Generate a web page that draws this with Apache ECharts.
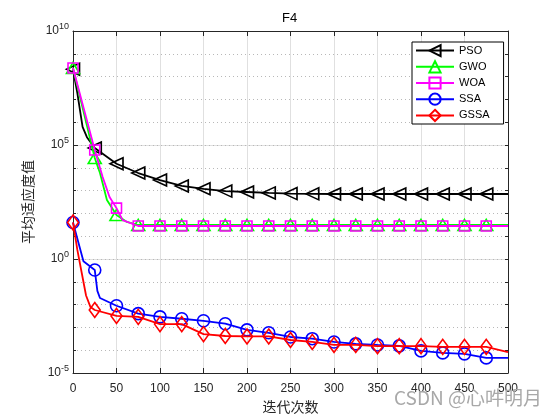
<!DOCTYPE html>
<html>
<head>
<meta charset="utf-8">
<script src="https://cdn.jsdelivr.net/npm/echarts@6/dist/echarts.min.js"></script>
<style>html,body{margin:0;padding:0;background:#fff}#c{width:560px;height:420px}</style>
</head>
<body>
<div id="c"></div>
<script>
// ---- data ----
const xTicks = [0, 50, 100, 150, 200, 250, 300, 350, 400, 450, 500];
const psoX = [0, 5, 11, 16, 25, 50, 75, 100, 125, 150, 175, 200, 225, 250, 275, 300, 325, 350, 375, 400, 425, 450, 475, 500];
const psoY = [2.1e8, 1.9e7, 6.2e5, 2.2e5, 7.4e4, 1.5e4, 5.9e3, 2.9e3, 1.6e3, 1.2e3, 950, 870, 790, 740, 720, 710, 710, 710, 710, 710, 710, 710, 710, 710];
const gwoX = [0, 25, 31, 39, 50, 62, 75, 100, 125, 150, 175, 200, 225, 250, 275, 300, 325, 350, 375, 400, 425, 450, 475, 500];
const gwoY = [2.4e8, 2.7e4, 5.9e3, 390, 85, 42, 31, 31, 31, 31, 31, 31, 31, 31, 31, 31, 31, 31, 31, 31, 31, 31, 31, 31];
const woaX = [0, 25, 34, 42, 50, 57, 75, 100, 125, 150, 175, 200, 225, 250, 275, 300, 325, 350, 375, 400, 425, 450, 475, 500];
const woaY = [2.4e8, 6.0e4, 4.0e3, 520, 170, 51, 28, 28, 28, 28, 28, 28, 28, 28, 28, 28, 28, 28, 28, 28, 28, 28, 28, 28];
const ssaX = [0, 12, 25, 28, 31, 50, 75, 100, 125, 150, 175, 200, 225, 250, 275, 300, 325, 350, 375, 400, 425, 450, 475, 500];
const ssaY = [40, 0.79, 0.33, 0.04, 0.0195, 8.9e-3, 4.0e-3, 2.9e-3, 2.4e-3, 1.95e-3, 1.45e-3, 7.8e-4, 5.8e-4, 3.8e-4, 3.2e-4, 2.3e-4, 1.9e-4, 1.7e-4, 1.55e-4, 9.3e-5, 7.6e-5, 6.9e-5, 4.6e-5, 4.6e-5];
const gssaX = [0, 5, 10, 15, 20, 25, 50, 75, 100, 125, 150, 175, 200, 225, 250, 275, 300, 325, 350, 375, 400, 425, 450, 475, 500];
const gssaY = [40, 2.5, 0.25, 0.025, 7.9e-3, 5.8e-3, 3.2e-3, 2.9e-3, 1.4e-3, 1.4e-3, 5.1e-4, 4.2e-4, 4.0e-4, 4.0e-4, 2.8e-4, 2.3e-4, 1.7e-4, 1.7e-4, 1.5e-4, 1.5e-4, 1.5e-4, 1.4e-4, 1.4e-4, 1.4e-4, 8.3e-5];
const names = ['PSO', 'GWO', 'WOA', 'SSA', 'GSSA'];
const colors = ['#000000', '#00ff00', '#ff00ff', '#0000ff', '#ff0000'];
const symbols = ['triangle', 'triangle', 'rect', 'circle', 'diamond'];
const symbolRot = [90, 0, 0, 0, 0];
const symbolSizes = [[12, 13], [13, 11], [10, 10], [12, 12], [11, 15]];

const chart = echarts.init(document.getElementById('c'), null, {renderer: 'canvas'});
const xs = [psoX, gwoX, woaX, ssaX, gssaX];
const ys = [psoY, gwoY, woaY, ssaY, gssaY];

function pts(x, y) {
  return x.map((v, i) => {
    const item = {value: [v, y[i]]};
    if (v % 25 !== 0 || v >= 500) item.symbol = 'none';
    return item;
  });
}

const font = '"Liberation Sans", Arial, Helvetica, sans-serif';
const gridCol = '#e0e0e0';

const series = names.map((n, k) => ({
  name: n,
  type: 'line',
  xAxisIndex: 0,
  yAxisIndex: 0,
  data: pts(xs[k], ys[k]),
  symbol: symbols[k],
  symbolRotate: symbolRot[k],
  symbolSize: symbolSizes[k],
  showAllSymbol: true,
  lineStyle: {color: colors[k], width: 1.8},
  itemStyle: {color: 'rgba(255,255,255,0)', borderColor: colors[k], borderWidth: 1.6},
  emphasis: {disabled: true},
  z: 3 + k
}));

function expLabel(v) {
  const e = Math.round(Math.log10(v));
  return '{b|10}{e|' + e + '}';
}

chart.setOption({
  animation: false,
  backgroundColor: '#ffffff',
  grid: {left: 73, right: 52, top: 31, bottom: 47},
  legend: {
    orient: 'vertical',
    left: 412, top: 42,
    data: names.map((n, k) => ({name: n, iconRotate: symbolRot[k]})),
    itemWidth: 38, itemHeight: 14, itemGap: 3,
    padding: [2, 14, 2, 3],
    borderColor: '#000', borderWidth: 1,
    backgroundColor: '#fff',
    textStyle: {fontFamily: font, fontSize: 11, color: '#000'},
    selectedMode: false
  },
  xAxis: [{
    type: 'value', min: 0, max: 500, interval: 50, position: 'bottom',
    name: '迭代次数', nameLocation: 'middle', nameGap: 27,
    nameTextStyle: {fontFamily: '"Noto Sans CJK SC"', fontSize: 14, color: '#262626'},
    axisLine: {show: true, lineStyle: {color: '#262626', width: 1}},
    axisTick: {show: true, inside: true, length: 5, lineStyle: {color: '#262626'}},
    axisLabel: {fontFamily: font, fontSize: 12, color: '#262626', margin: 10},
    splitLine: {show: true, lineStyle: {color: gridCol, width: 1}}
  }, {
    type: 'value', min: 0, max: 500, interval: 50, position: 'top',
    axisLine: {show: true, lineStyle: {color: '#262626', width: 1}},
    axisTick: {show: true, inside: true, length: 5, lineStyle: {color: '#262626'}},
    axisLabel: {show: false}, splitLine: {show: false}
  }],
  yAxis: [{
    type: 'log', logBase: 10, min: 1e-5, max: 1e10, interval: 5, position: 'left',
    name: '平均适应度值', nameLocation: 'middle', nameGap: 38, nameRotate: 90,
    nameTextStyle: {fontFamily: '"Noto Sans CJK SC"', fontSize: 14, color: '#262626'},
    axisLine: {show: true, lineStyle: {color: '#262626', width: 1}},
    axisTick: {show: true, inside: true, length: 5, lineStyle: {color: '#262626'}},
    axisLabel: {
      formatter: expLabel, margin: 4,
      rich: {
        b: {fontFamily: font, fontSize: 12, color: '#262626'},
        e: {fontFamily: font, fontSize: 9, color: '#262626', padding: [0, 0, 9, 0]}
      }
    },
    splitLine: {show: true, lineStyle: {color: gridCol, width: 1}}
  }, {
    type: 'log', logBase: 10, min: 1e-5, max: 1e10, interval: 1, position: 'left',
    axisLine: {show: false},
    axisTick: {show: true, inside: true, length: 3, lineStyle: {color: '#262626'}},
    axisLabel: {show: false},
    splitLine: {show: true, lineStyle: {color: '#b8b8b8', width: 1, type: [1, 3]}}
  }, {
    type: 'log', logBase: 10, min: 1e-5, max: 1e10, interval: 1, position: 'right',
    axisLine: {show: true, lineStyle: {color: '#262626', width: 1}},
    axisTick: {show: true, inside: true, length: 3, lineStyle: {color: '#262626'}},
    axisLabel: {show: false}, splitLine: {show: false}
  }],
  graphic: [{
    type: 'text', left: 290 - 8, top: 12, z: 100,
    style: {text: 'F4', font: '13px "Liberation Sans", Arial, sans-serif', fill: '#000'}
  }, {
    type: 'text', left: 394, top: 388, z: 100,
    style: {text: 'CSDN @心吽明月', font: '19px "Noto Sans CJK SC", sans-serif', fill: '#a8a8a8'}
  }],
  series: series
});
</script>
</body>
</html>
